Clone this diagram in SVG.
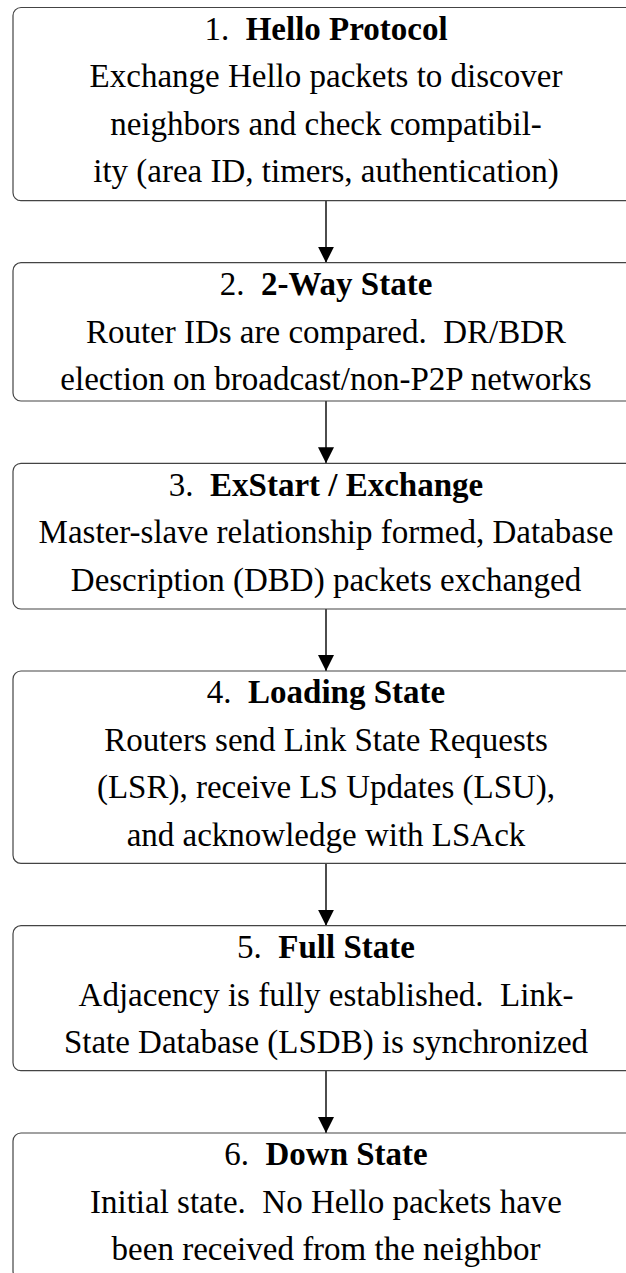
<svg xmlns="http://www.w3.org/2000/svg" width="626" height="1273" viewBox="0 0 626 1273">
<style>
.box{fill:#fff;stroke:#444;stroke-width:1.2}
.t{font-family:"Liberation Serif","Times New Roman",serif;font-size:33px;fill:#000;text-anchor:middle}
.b{font-weight:bold}
.c{stroke:#000;stroke-width:1.4;fill:none}
</style>
<defs>
<marker id="ah" viewBox="0 0 16 21" refX="16" refY="10.5" markerWidth="16" markerHeight="21" markerUnits="userSpaceOnUse" orient="auto">
<path d="M0,2.5 L16,10.5 L0,18.5 Z" fill="#000"/>
</marker>
</defs>
<rect width="626" height="1273" fill="#fff"/>
<g id="connectors">
<line class="c" x1="326" y1="200.7" x2="326" y2="262.7" marker-end="url(#ah)"/>
<line class="c" x1="326" y1="401" x2="326" y2="463.3" marker-end="url(#ah)"/>
<line class="c" x1="326" y1="609" x2="326" y2="671" marker-end="url(#ah)"/>
<line class="c" x1="326" y1="863.3" x2="326" y2="925.7" marker-end="url(#ah)"/>
<line class="c" x1="326" y1="1070.7" x2="326" y2="1133" marker-end="url(#ah)"/>
</g>
<g id="n1">
<rect class="box" x="13" y="7.5" width="626" height="193.2" rx="8"/>
<text class="t" x="326" y="39.8" xml:space="preserve">1.  <tspan class="b">Hello Protocol</tspan></text>
<text class="t" x="326" y="87.3">Exchange Hello packets to discover</text>
<text class="t" x="326" y="134.8">neighbors and check compatibil-</text>
<text class="t" x="326" y="182.3">ity (area ID, timers, authentication)</text>
</g>
<g id="n2">
<rect class="box" x="13" y="262.7" width="626" height="138.3" rx="8"/>
<text class="t" x="326" y="295" xml:space="preserve">2.  <tspan class="b">2-Way State</tspan></text>
<text class="t" x="326" y="342.5" xml:space="preserve">Router IDs are compared.  DR/BDR</text>
<text class="t" x="326" y="390">election on broadcast/non-P2P networks</text>
</g>
<g id="n3">
<rect class="box" x="13" y="463.3" width="626" height="145.7" rx="8"/>
<text class="t" x="326" y="495.6" xml:space="preserve">3.  <tspan class="b">ExStart / Exchange</tspan></text>
<text class="t" x="326" y="543.1">Master-slave relationship formed, Database</text>
<text class="t" x="326" y="590.6">Description (DBD) packets exchanged</text>
</g>
<g id="n4">
<rect class="box" x="13" y="671" width="626" height="192.3" rx="8"/>
<text class="t" x="326" y="703.3" xml:space="preserve">4.  <tspan class="b">Loading State</tspan></text>
<text class="t" x="326" y="750.8">Routers send Link State Requests</text>
<text class="t" x="326" y="798.3">(LSR), receive LS Updates (LSU),</text>
<text class="t" x="326" y="845.8">and acknowledge with LSAck</text>
</g>
<g id="n5">
<rect class="box" x="13" y="925.7" width="626" height="145" rx="8"/>
<text class="t" x="326" y="958" xml:space="preserve">5.  <tspan class="b">Full State</tspan></text>
<text class="t" x="326" y="1005.5" xml:space="preserve">Adjacency is fully established.  Link-</text>
<text class="t" x="326" y="1053">State Database (LSDB) is synchronized</text>
</g>
<g id="n6">
<rect class="box" x="13" y="1133" width="626" height="146" rx="8"/>
<text class="t" x="326" y="1165.3" xml:space="preserve">6.  <tspan class="b">Down State</tspan></text>
<text class="t" x="326" y="1212.8" xml:space="preserve">Initial state.  No Hello packets have</text>
<text class="t" x="326" y="1260.3">been received from the neighbor</text>
</g>
</svg>
